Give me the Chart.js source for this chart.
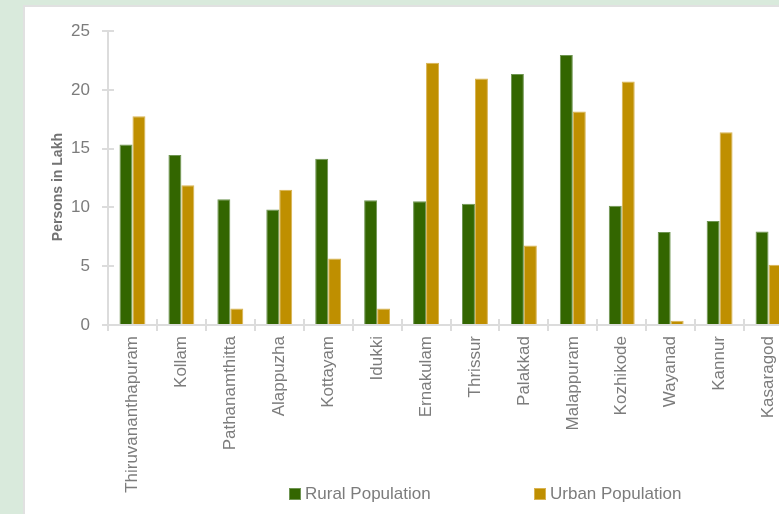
<!DOCTYPE html>
<html>
<head>
<meta charset="utf-8">
<title>Kerala District Population</title>
<script src="https://cdn.jsdelivr.net/npm/chart.js@4.4.1/dist/chart.umd.min.js"></script>
<style>
  html, body { margin: 0; padding: 0; width: 779px; height: 514px; overflow: hidden; background: #d9eadc; }
  #panel { position: absolute; left: 23px; top: 5px; width: 900px; height: 600px; background: #fff; border: 2px solid #e1e1e1; }
  #popChart { position: absolute; left: 27px; top: 9px; }
</style>
</head>
<body>
<div id="panel"></div>
<canvas id="popChart" width="800" height="505"></canvas>
<script>
// District-wise population (in lakh)
var districts = ["Thiruvananthapuram", "Kollam", "Pathanamthitta", "Alappuzha", "Kottayam", "Idukki",
  "Ernakulam", "Thrissur", "Palakkad", "Malappuram", "Kozhikode", "Wayanad", "Kannur", "Kasaragod"];
var rural = [15.36, 14.47, 10.70, 9.83, 14.14, 10.62, 10.54, 10.31, 21.36, 22.98, 10.14, 7.91, 8.86, 7.96];
var urban = [17.76, 11.90, 1.41, 11.51, 5.65, 1.41, 22.31, 20.97, 6.77, 18.16, 20.72, 0.37, 16.40, 5.12];

var seriesNames = ["Rural Population", "Urban Population"];
var seriesColors = ["#336600", "#bf8f00"];
var seriesEdges = ["#6f9552", "#d9b352"];
var yTicks = [0, 5, 10, 15, 20, 25];
var yTitle = "Persons in Lakh";

var textGray = "#7c7c7c";
var lineGray = "#dcdcdc";
var fontFamily = "'Liberation Sans', Arial, sans-serif";

// tick stubs inside the plot, axis title and the spread out legend
var axisExtras = {
  id: "axisExtras",
  afterDraw: function (chart) {
    var ctx = chart.ctx;
    var area = chart.chartArea;
    var xs = chart.scales.x;
    var ys = chart.scales.y;
    ctx.save();
    ctx.strokeStyle = lineGray;
    ctx.lineWidth = 2;
    ctx.beginPath();
    ys.ticks.forEach(function (t, i) {
      var py = Math.round(ys.getPixelForTick(i));
      ctx.moveTo(area.left, py);
      ctx.lineTo(area.left + 6, py);
    });
    var step = xs.getPixelForTick(1) - xs.getPixelForTick(0);
    for (var i = 0; i <= districts.length; i++) {
      var px = Math.round(xs.getPixelForTick(0) - step / 2 + i * step);
      ctx.moveTo(px, area.bottom);
      ctx.lineTo(px, area.bottom - 6);
    }
    ctx.stroke();

    // y axis title, sits a little below the middle of the axis
    ctx.save();
    ctx.translate(ys.left + 31, (area.top + area.bottom) / 2 + 9);
    ctx.rotate(-Math.PI / 2);
    ctx.font = "bold 14px " + fontFamily;
    ctx.fillStyle = "#737373";
    ctx.textAlign = "center";
    ctx.textBaseline = "middle";
    ctx.fillText(yTitle, 0, 0);
    ctx.restore();

    // legend
    ctx.font = "17px " + fontFamily;
    ctx.textBaseline = "middle";
    ctx.textAlign = "left";
    var legendY = 485;
    var legendX = [area.left + 181, area.left + 426];
    chart.data.datasets.forEach(function (ds, i) {
      ctx.fillStyle = seriesEdges[i];
      ctx.fillRect(legendX[i], legendY - 6, 12, 12);
      ctx.fillStyle = seriesColors[i];
      ctx.fillRect(legendX[i] + 1, legendY - 5, 10, 10);
      ctx.fillStyle = textGray;
      ctx.fillText(ds.label, legendX[i] + 16, legendY);
    });
    ctx.restore();
  }
};

new Chart("popChart", {
  type: "bar",
  data: {
    labels: districts,
    datasets: [{
      label: seriesNames[0],
      data: rural,
      backgroundColor: seriesColors[0],
      borderColor: seriesEdges[0],
      borderWidth: 1,
      categoryPercentage: 0.53,
      barPercentage: 1.0
    }, {
      label: seriesNames[1],
      data: urban,
      backgroundColor: seriesColors[1],
      borderColor: seriesEdges[1],
      borderWidth: 1,
      categoryPercentage: 0.53,
      barPercentage: 1.0
    }]
  },
  options: {
    responsive: false,
    animation: false,
    devicePixelRatio: 1,
    layout: {
      padding: { left: 0, top: 18, right: 34, bottom: 0 }
    },
    plugins: {
      legend: { display: false },
      tooltip: { enabled: false }
    },
    scales: {
      x: {
        grid: {
          display: true,
          drawOnChartArea: false,
          drawTicks: true,
          tickLength: 6,
          color: lineGray,
          lineWidth: 2
        },
        border: { display: true, color: lineGray, width: 2 },
        ticks: {
          color: textGray,
          font: { family: fontFamily, size: 17 },
          minRotation: 90,
          maxRotation: 90,
          autoSkip: false,
          padding: 5
        },
        afterFit: function (scale) { scale.height = 189; }
      },
      y: {
        min: 0,
        max: 25,
        afterBuildTicks: function (scale) {
          scale.ticks = yTicks.map(function (v) { return { value: v }; });
        },
        grid: {
          display: true,
          drawOnChartArea: false,
          drawTicks: true,
          tickLength: 6,
          color: lineGray,
          lineWidth: 2
        },
        border: { display: true, color: lineGray, width: 2 },
        ticks: {
          color: textGray,
          font: { family: fontFamily, size: 17 },
          padding: 12
        },
        afterFit: function (scale) { scale.width = 81; }
      }
    }
  },
  plugins: [axisExtras]
});
</script>
</body>
</html>
